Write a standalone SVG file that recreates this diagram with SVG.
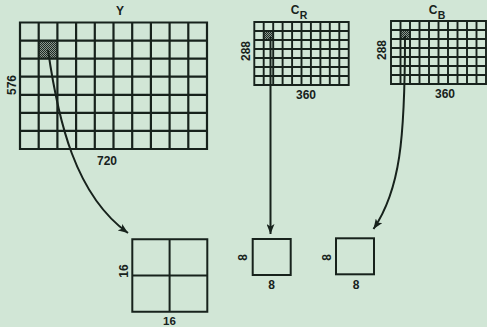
<svg xmlns="http://www.w3.org/2000/svg" width="487" height="327" viewBox="0 0 487 327">
<style>
.g{fill:none;stroke:#17221c;stroke-width:2.2}
.gs{fill:none;stroke:#17221c;stroke-width:1.9}
.b{fill:none;stroke:#17221c;stroke-width:2}
.c{fill:none;stroke:#17221c;stroke-width:2}
text{font-family:"Liberation Sans",Arial,sans-serif;font-weight:bold;font-size:12px;fill:#17221c;text-anchor:middle}
.sub{font-size:10.5px}
</style>
<defs>
<pattern id="chk" width="2" height="2" patternUnits="userSpaceOnUse">
<rect width="2" height="2" fill="#8a968e"/>
<rect width="1" height="1" fill="#1e2a24"/>
<rect x="1" y="1" width="1" height="1" fill="#1e2a24"/>
</pattern>
<marker id="ah" viewBox="0 0 10 8" refX="10" refY="4" markerWidth="10" markerHeight="8" markerUnits="userSpaceOnUse" orient="auto">
<path d="M0,0 L10,4 L0,8 L2.5,4 Z" fill="#17221c"/>
</marker>
</defs>
<rect width="487" height="327" fill="#d1e6d6"/>

<g id="Y">
<text x="120" y="14.5">Y</text>
<rect x="38.7" y="40.6" width="18.7" height="18" fill="url(#chk)"/>
<path class="g" d="M20,22.5H207V149H20Z M38.7,22.5V149 M57.4,22.5V149 M76.1,22.5V149 M94.8,22.5V149 M113.5,22.5V149 M132.2,22.5V149 M150.9,22.5V149 M169.6,22.5V149 M188.3,22.5V149 M20,40.6H207 M20,58.6H207 M20,76.7H207 M20,94.8H207 M20,112.9H207 M20,130.9H207"/>
<text transform="translate(15.8,85) rotate(-90)">576</text>
<text x="107" y="164.5">720</text>
</g>

<g id="CR">
<text x="295" y="14">C</text><text class="sub" x="303.5" y="18.5">R</text>
<rect x="263.7" y="31" width="9.4" height="9" fill="url(#chk)"/>
<path class="gs" d="M254.3,22H348.7V85H254.3Z M263.7,22V85 M273.2,22V85 M282.6,22V85 M292.1,22V85 M301.5,22V85 M310.9,22V85 M320.4,22V85 M329.8,22V85 M339.3,22V85 M254.3,31H348.7 M254.3,40H348.7 M254.3,49H348.7 M254.3,58H348.7 M254.3,67H348.7 M254.3,76H348.7"/>
<text transform="translate(249.5,51) rotate(-90)">288</text>
<text x="306" y="98.5">360</text>
</g>

<g id="CB">
<text x="433" y="14">C</text><text class="sub" x="441.5" y="19">B</text>
<rect x="400.5" y="30" width="9.5" height="9" fill="url(#chk)"/>
<path class="gs" d="M391,21H486V84H391Z M400.5,21V84 M410,21V84 M419.5,21V84 M429,21V84 M438.5,21V84 M448,21V84 M457.5,21V84 M467,21V84 M476.5,21V84 M391,30H486 M391,39H486 M391,48H486 M391,57H486 M391,66H486 M391,75H486"/>
<text transform="translate(386,50) rotate(-90)">288</text>
<text x="445" y="98">360</text>
</g>

<g id="Y16">
<path class="b" d="M132.3,239.3H207.3V311.7H132.3Z M169.6,239.3V311.7 M132.3,275.4H207.3"/>
<text transform="translate(128,271) rotate(-90)">16</text>
<text x="169.5" y="324.5" style="font-size:11.5px">16</text>
</g>

<g id="CR8">
<rect class="b" x="252.7" y="239" width="38" height="36"/>
<text transform="translate(247.3,257.5) rotate(-90)">8</text>
<text x="271.7" y="288.5">8</text>
</g>

<g id="CB8">
<rect class="b" x="336" y="238.3" width="38" height="36"/>
<text transform="translate(330.8,257.5) rotate(-90)">8</text>
<text x="356" y="288.5">8</text>
</g>

<g id="connectors">
<path class="c" d="M48,50 C58,120 75,195 128,233" marker-end="url(#ah)"/>
<path class="c" d="M270.5,37 V234" marker-end="url(#ah)"/>
<path class="c" d="M405,36 C405,140 400,190 373.5,229" marker-end="url(#ah)"/>
</g>
</svg>
